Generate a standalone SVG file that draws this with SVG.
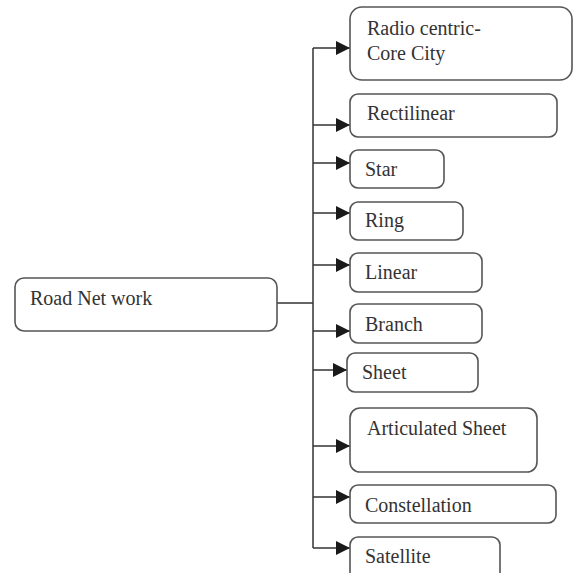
<svg xmlns="http://www.w3.org/2000/svg" width="573" height="573" viewBox="0 0 573 573">
<defs>
<style>
.box{fill:#fff;stroke:#555;stroke-width:1.6}
.t{font-family:"Liberation Serif","Times New Roman",serif;font-size:20px;fill:#333}
.c{stroke:#333;stroke-width:1.5;fill:none}
</style>
<marker id="ah" markerWidth="14" markerHeight="14" refX="14" refY="7" orient="auto" markerUnits="userSpaceOnUse">
<path d="M0,0 L14,7 L0,14 Z" fill="#1a1a1a"/>
</marker>
</defs>
<rect width="573" height="573" fill="#fff"/>
<g id="connectors">
<path class="c" d="M277,303 H313"/>
<path class="c" d="M313,48 V548"/>
<path class="c" d="M313,48 H350" marker-end="url(#ah)"/>
<path class="c" d="M313,125 H350" marker-end="url(#ah)"/>
<path class="c" d="M313,163 H350" marker-end="url(#ah)"/>
<path class="c" d="M313,213 H350" marker-end="url(#ah)"/>
<path class="c" d="M313,265 H350" marker-end="url(#ah)"/>
<path class="c" d="M313,331 H350" marker-end="url(#ah)"/>
<path class="c" d="M313,370 H347" marker-end="url(#ah)"/>
<path class="c" d="M313,446 H350" marker-end="url(#ah)"/>
<path class="c" d="M313,497 H350" marker-end="url(#ah)"/>
<path class="c" d="M313,548 H350" marker-end="url(#ah)"/>
</g>
<g id="road">
<rect class="box" x="15" y="278" width="262" height="53" rx="9"/>
<text class="t" x="30" y="305">Road Net work</text>
</g>
<g id="radio">
<rect class="box" x="350" y="7" width="222" height="73" rx="12"/>
<text class="t" x="367" y="35">Radio centric-</text>
<text class="t" x="367" y="60">Core City</text>
</g>
<g id="rectilinear">
<rect class="box" x="350" y="94" width="207" height="43" rx="8"/>
<text class="t" x="367" y="120">Rectilinear</text>
</g>
<g id="star">
<rect class="box" x="350" y="150" width="94" height="38" rx="8"/>
<text class="t" x="365" y="176">Star</text>
</g>
<g id="ring">
<rect class="box" x="350" y="202" width="113" height="38" rx="8"/>
<text class="t" x="365" y="227">Ring</text>
</g>
<g id="linear">
<rect class="box" x="350" y="253" width="132" height="39" rx="8"/>
<text class="t" x="365" y="279">Linear</text>
</g>
<g id="branch">
<rect class="box" x="350" y="304" width="132" height="39" rx="8"/>
<text class="t" x="365" y="331">Branch</text>
</g>
<g id="sheet">
<rect class="box" x="347" y="353" width="131" height="39" rx="8"/>
<text class="t" x="362" y="379">Sheet</text>
</g>
<g id="articulated">
<rect class="box" x="350" y="408" width="187" height="64" rx="10"/>
<text class="t" x="367" y="435">Articulated Sheet</text>
</g>
<g id="constellation">
<rect class="box" x="350" y="485" width="206" height="38" rx="8"/>
<text class="t" x="365" y="512">Constellation</text>
</g>
<g id="satellite">
<rect class="box" x="350" y="537" width="150" height="45" rx="8"/>
<text class="t" x="365" y="563">Satellite</text>
</g>
</svg>
